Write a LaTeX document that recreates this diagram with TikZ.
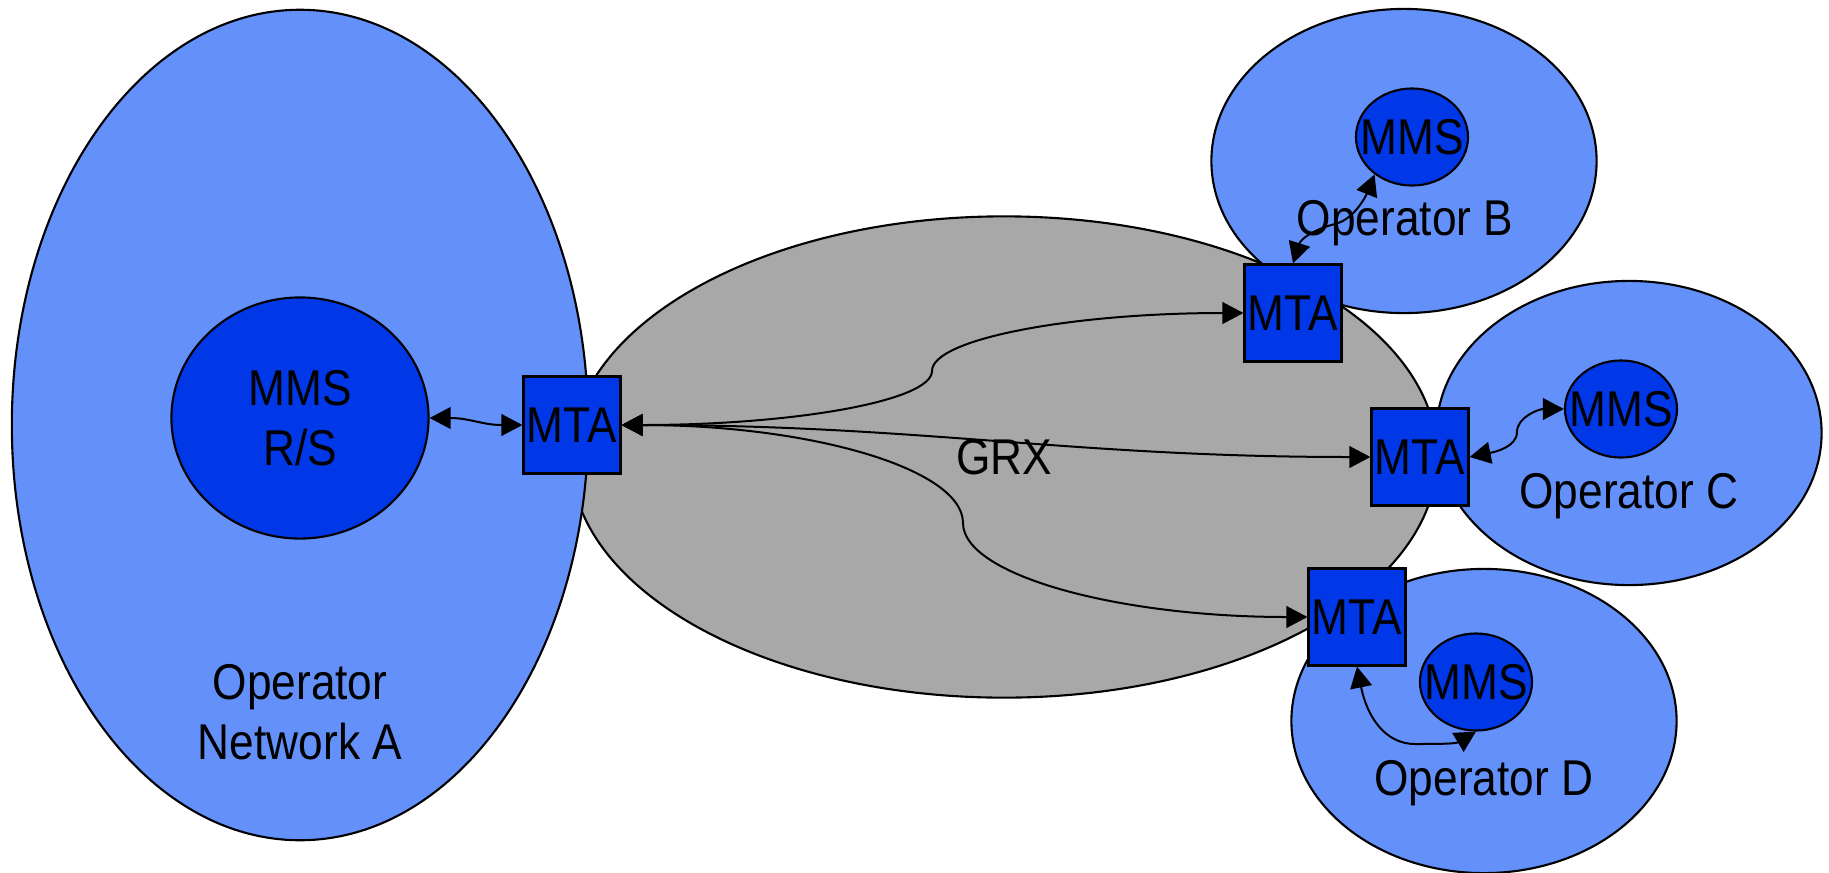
\documentclass[tikz,border=0pt]{standalone}
\usepackage{fontspec}
\setmainfont{Liberation Sans}[FakeStretch=0.88]
\usepackage{xcolor}
\usetikzlibrary{shapes.geometric,arrows.meta}
\definecolor{opBlue}{RGB}{100,144,250}
\definecolor{mtaBlue}{RGB}{0,55,230}
\definecolor{grxGrey}{RGB}{168,168,168}

\begin{document}
\begin{tikzpicture}
[x=0.01cm, y=-0.01cm,
 every node/.style={font=\fontsize{14.3pt}{17pt}\selectfont},
 lineDecorate/.style={{Triangle[length=6pt,width=6.2pt]}-{Triangle[length=6pt,width=6.2pt]},line width=0.2mm},
 opDecorate/.style={shape=ellipse,draw,line width=0.6pt,fill=opBlue,inner sep=0pt},
 mmsDecorate/.style={shape=ellipse,draw,line width=0.6pt,fill=mtaBlue,inner sep=0pt,minimum width=1.12cm,minimum height=0.97cm},
 mtaDecorate/.style={shape=rectangle,draw,line width=0.6pt,fill=mtaBlue,inner sep=0pt,minimum size=0.97cm}]

 \useasboundingbox (0,0) rectangle (1829,872);

 % GRX cloud and the operator networks
 \node (GRX) at (1004,457) [shape=ellipse,draw,line width=0.6pt,fill=grxGrey,inner sep=0pt,minimum width=8.66cm,minimum height=4.81cm] {GRX};
 \node (opA) at (300,425) [opDecorate,minimum width=5.76cm,minimum height=8.3cm] {};
 \node (mmsA) at (300,418) [opDecorate,fill=mtaBlue,minimum width=2.57cm,minimum height=2.41cm,align=center] {MMS\\R/S};
 \node (lblA) at (300,712) [align=center] {Operator\\Network A};

 \foreach \name/\x/\y in {
B/1404/161,
C/1629/433,
D/1484/721
 }
 {
          \node (op\name) at (\x,\y) [opDecorate,minimum width=3.85cm,minimum height=3.04cm] {};
 }

 \foreach \name/\x/\y in {
B/1412/137,
C/1621/409,
D/1476/682
 }
 {
          \node (mms\name) at (\x,\y) [mmsDecorate,label=center:MMS] {};
 }

 \foreach \name/\x/\y in {
B/1405/235,
C/1629/508,
D/1484/795
 }
 {
          \node (lbl\name) at (\x,\y) [anchor=base] {Operator \name};
 }

 \node (mtaA) at (572,425) [mtaDecorate] {MTA};
 \foreach \name/\x/\y in {
B/1293/313,
C/1420/457,
D/1357/617
 }
 {
          \node (mta\name) at (\x,\y) [mtaDecorate] {MTA};
 }

 \coordinate (bendAB) at (932,371);
 \coordinate (bendAD) at (963,523);
 \coordinate (bendB) at (1335,224);
 \coordinate (bendC) at (1517,432);
 \coordinate (bendD) at (1415,744);

 % links inside the networks
 \draw[lineDecorate] (mmsA.east) .. controls +(40,0) and +(-40,0) .. (mtaA.west);
 \draw[lineDecorate] (mtaB.north) .. controls +(8,-25) and +(-20,5) .. (bendB) .. controls +(20,-5) and +(-8,20) .. (mmsB.225);
 \draw[lineDecorate] (mtaC.east) .. controls +(25,-5) and +(0,15) .. (bendC) .. controls +(0,-15) and +(-25,0) .. (mmsC.west);
 \draw[lineDecorate] (mtaD.south) .. controls +(10,50) and +(-30,0) .. (bendD) .. controls +(30,0) and +(-20,12) .. (mmsD.south);

 % links across GRX
 \draw[lineDecorate] (mtaA.east) .. controls +(172,0) and +(0,30) .. (bendAB) .. controls +(0,-32) and +(-172,0) .. (mtaB.west);
 \draw[lineDecorate] (mtaA.east) .. controls +(300,0) and +(-300,0) .. (mtaC.west);
 \draw[lineDecorate] (mtaA.east) .. controls +(190,0) and +(0,-54) .. (bendAD) .. controls +(0,52) and +(-190,0) .. (mtaD.west);

\end{tikzpicture}
\end{document}
